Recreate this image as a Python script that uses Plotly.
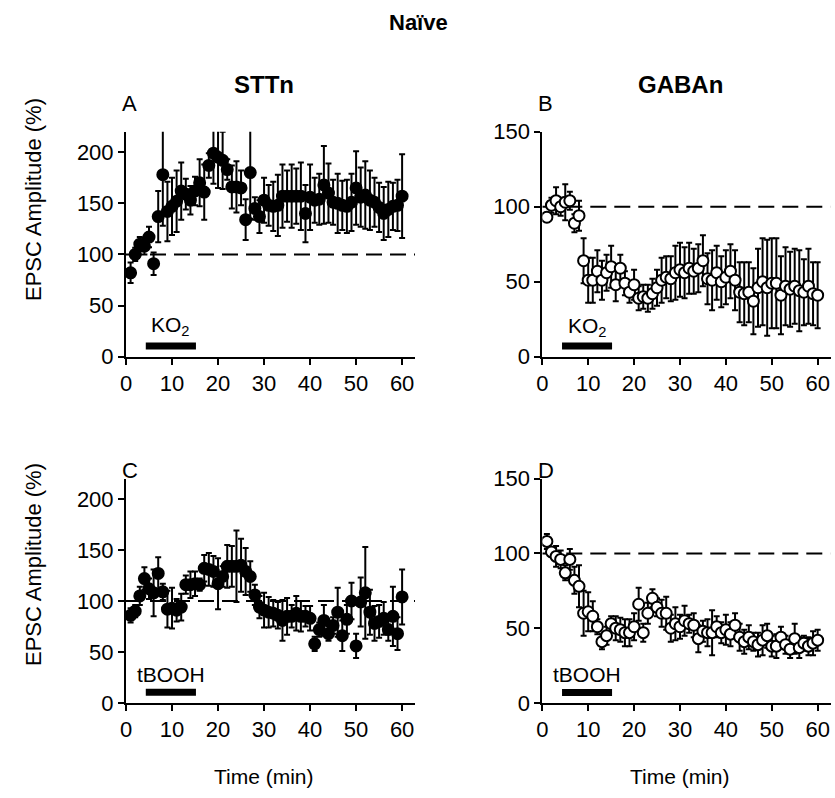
import plotly.graph_objects as go

W, H = 835, 798

time_min = [1, 2, 3, 4, 5, 6, 7, 8, 9, 10, 11, 12, 13, 14, 15, 16, 17, 18, 19, 20,
            21, 22, 23, 24, 25, 26, 27, 28, 29, 30, 31, 32, 33, 34, 35, 36, 37, 38, 39, 40,
            41, 42, 43, 44, 45, 46, 47, 48, 49, 50, 51, 52, 53, 54, 55, 56, 57, 58, 59, 60]

# A: STTn, KO2
sttn_ko2 = [82, 100, 110, 108, 117, 91, 137, 178, 142, 147, 152, 162, 159, 153, 162, 170, 161, 187, 199, 195,
            192, 183, 166, 166, 165, 134, 180, 145, 137, 153, 148, 147, 148, 157, 157, 157, 157, 157, 140, 156,
            153, 154, 168, 160, 151, 150, 148, 147, 151, 165, 156, 158, 153, 151, 146, 140, 144, 147, 148, 157]
sttn_ko2_err = [10, 6.5, 7, 8, 10, 11, 25, 50, 29, 28, 30, 28, 15, 14, 14, 23, 27, 12, 30, 30,
                28, 10, 21, 25, 17, 20, 45, 11, 16, 22, 20, 24, 30, 31, 25, 31, 27, 33, 28, 32,
                22, 25, 38, 29, 22, 29, 24, 26, 28, 36, 29, 33, 29, 24, 24, 26, 27, 23, 25, 41]

# B: GABAn, KO2
gaban_ko2 = [93, 101, 104, 100, 103, 104, 89, 94, 64, 51, 51, 57, 51, 56, 60, 48, 59, 49, 43, 48,
             39, 40, 39, 42, 46, 51, 53, 52, 56, 58, 56, 59, 57, 59, 64, 52, 51, 56, 50, 53,
             57, 51, 43, 42, 43, 37, 46, 50, 46, 49, 49, 41, 47, 45, 47, 44, 43, 47, 42, 41]
gaban_ko2_err = [3, 5, 9, 6, 12, 6, 6, 10, 15, 15, 15, 14, 13, 12, 14, 11, 9, 8, 7, 10,
                 8, 8, 9, 10, 12, 15, 14, 15, 18, 18, 17, 17, 15, 16, 17, 17, 20, 18, 17, 18,
                 18, 20, 20, 21, 20, 22, 26, 29, 32, 30, 30, 26, 26, 25, 25, 27, 22, 25, 21, 22]

# C: STTn, tBOOH
sttn_tbooh = [86, 90, 105, 122, 112, 108, 127, 109, 92, 93, 91, 94, 116, 116, 117, 116, 132, 131, 129, 117,
              124, 134, 134, 134, 135, 129, 124, 106, 94, 91, 89, 88, 86, 81, 85, 85, 88, 85, 85, 83,
              58, 72, 81, 68, 76, 89, 66, 82, 100, 56, 99, 108, 89, 78, 80, 83, 72, 85, 68, 104]
sttn_tbooh_err = [7, 6, 9, 11, 10, 23, 16, 8, 18, 20, 11, 13, 9, 13, 12, 6, 13, 16, 15, 25,
                  10, 21, 20, 35, 26, 23, 15, 10, 11, 17, 15, 13, 13, 20, 18, 11, 17, 15, 10, 12,
                  7, 7, 15, 7, 8, 24, 15, 14, 18, 12, 24, 45, 22, 17, 16, 16, 11, 29, 16, 27]

# D: GABAn, tBOOH
gaban_tbooh = [108, 101, 98, 96, 87, 96, 82, 78, 60, 61, 58, 51, 41, 45, 53, 50, 49, 47, 47, 51,
               66, 47, 60, 70, 64, 60, 60, 50, 53, 51, 55, 53, 52, 43, 48, 47, 47, 51, 47, 49,
               46, 52, 44, 41, 44, 41, 39, 42, 45, 38, 38, 44, 39, 36, 43, 37, 40, 38, 40, 42]
gaban_tbooh_err = [5, 3, 7, 6, 5, 7, 9, 14, 15, 13, 10, 5, 5, 6, 5, 8, 8, 9, 9, 9,
                   11, 6, 7, 6, 6, 9, 11, 9, 11, 8, 10, 6, 8, 9, 7, 9, 15, 7, 7, 10,
                   8, 8, 9, 8, 8, 6, 8, 10, 8, 7, 8, 7, 6, 6, 10, 7, 5, 6, 8, 7]

x_ticks = [0, 10, 20, 30, 40, 50, 60]
y_ticks_sttn = [0, 50, 100, 150, 200]
y_ticks_gaban = [0, 50, 100, 150]
baseline = 100
stim_start, stim_end = 4.3, 15.2

FONT = "Liberation Sans, Arial, sans-serif"
TICK_SIZE = 22
STIM_SIZE = 21
LABEL_SIZE = 22
TITLE_SIZE = 24


def fx(px):
    return px / W


def fy(py):
    return 1 - py / H


# plot-area pixel boxes
left_x = (126, 415)
right_x = (542.3, 830.5)
top_y = (131.7, 356.7)
bot_y = (478.6, 703.0)

panels = [
    ("", left_x, top_y, 220, y_ticks_sttn, sttn_ko2, sttn_ko2_err, True, "KO<sub>2</sub>"),
    ("2", right_x, top_y, 150, y_ticks_gaban, gaban_ko2, gaban_ko2_err, False, "KO<sub>2</sub>"),
    ("3", left_x, bot_y, 220, y_ticks_sttn, sttn_tbooh, sttn_tbooh_err, True, "tBOOH"),
    ("4", right_x, bot_y, 150, y_ticks_gaban, gaban_tbooh, gaban_tbooh_err, False, "tBOOH"),
]

fig = go.Figure()
layout = dict(
    width=W, height=H, margin=dict(l=0, r=0, t=0, b=0, pad=0), autosize=False,
    plot_bgcolor="white", paper_bgcolor="white", showlegend=False,
    font=dict(family=FONT, color="black", size=TICK_SIZE),
)
shapes = []
annotations = []

axis_common = dict(
    showline=True, linecolor="black", linewidth=2, ticks="outside", ticklen=6,
    tickwidth=2, tickcolor="black", showgrid=False, zeroline=False, automargin=False,
    tickfont=dict(family=FONT, size=TICK_SIZE, color="black"),
)

for suf, xb, yb, ymax, yt, vals, errs, filled, stim in panels:
    xa = "x" + suf
    ya = "y" + suf
    layout["xaxis" + suf] = dict(
        axis_common, domain=[fx(xb[0]), fx(xb[1])], range=[0, 62.8],
        tickvals=x_ticks, anchor=ya,
    )
    layout["yaxis" + suf] = dict(
        axis_common, domain=[fy(yb[1]), fy(yb[0])], range=[0, ymax],
        tickvals=yt, anchor=xa,
    )
    shapes.append(dict(type="line", xref=xa, yref=ya, x0=0, x1=62.8, y0=baseline, y1=baseline,
                       line=dict(color="black", width=2, dash="16px,8px"), layer="below"))
    px_per_unit = (yb[1] - yb[0]) / ymax
    half = 3.5 / px_per_unit
    ybar = 10.5 if ymax == 220 else 7.1
    shapes.append(dict(type="rect", xref=xa, yref=ya, x0=stim_start, x1=stim_end,
                       y0=ybar - half, y1=ybar + half, fillcolor="black",
                       line=dict(width=0)))
    annotations.append(dict(xref=xa, yref=ya, x=(stim_start + stim_end) / 2,
                            y=ybar + half, yshift=1, text=stim, showarrow=False,
                            xanchor="center", yanchor="bottom",
                            font=dict(family=FONT, size=STIM_SIZE, color="black")))
    fig.add_trace(go.Scatter(
        x=time_min, y=vals, xaxis=xa, yaxis=ya, mode="markers",
        marker=dict(size=11, color="black" if filled else "white",
                    line=dict(color="black", width=2)),
        error_y=dict(type="data", array=errs, visible=True, color="black",
                     thickness=2, width=3),
        cliponaxis=True,
    ))

titles = [
    dict(x=fx(418), y=fy(22), text="<b>Naïve</b>", font=dict(size=22)),
    dict(x=fx(264), y=fy(85), text="<b>STTn</b>", font=dict(size=TITLE_SIZE)),
    dict(x=fx(680), y=fy(85), text="<b>GABAn</b>", font=dict(size=TITLE_SIZE)),
    dict(x=fx(120), y=fy(103), text="A", xanchor="left", font=dict(size=LABEL_SIZE)),
    dict(x=fx(536), y=fy(103), text="B", xanchor="left", font=dict(size=LABEL_SIZE)),
    dict(x=fx(120), y=fy(470), text="C", xanchor="left", font=dict(size=LABEL_SIZE)),
    dict(x=fx(536), y=fy(470), text="D", xanchor="left", font=dict(size=LABEL_SIZE)),
    dict(x=fx(33), y=fy(200), text="EPSC Amplitude (%)", textangle=-90, font=dict(size=LABEL_SIZE)),
    dict(x=fx(33), y=fy(565), text="EPSC Amplitude (%)", textangle=-90, font=dict(size=LABEL_SIZE)),
    dict(x=fx(264), y=fy(776), text="Time (min)", font=dict(size=21)),
    dict(x=fx(680), y=fy(776), text="Time (min)", font=dict(size=21)),
]
for a in titles:
    a.update(xref="paper", yref="paper", showarrow=False, yanchor="middle")
    a.setdefault("xanchor", "center")
    a["font"] = dict(family=FONT, color="black", size=a["font"]["size"])
annotations += titles

layout["shapes"] = shapes
layout["annotations"] = annotations
fig.update_layout(**layout)
fig.write_html(
    "out.html",
    config={"displayModeBar": False},
    post_script="document.body.style.margin='0px';",
)
